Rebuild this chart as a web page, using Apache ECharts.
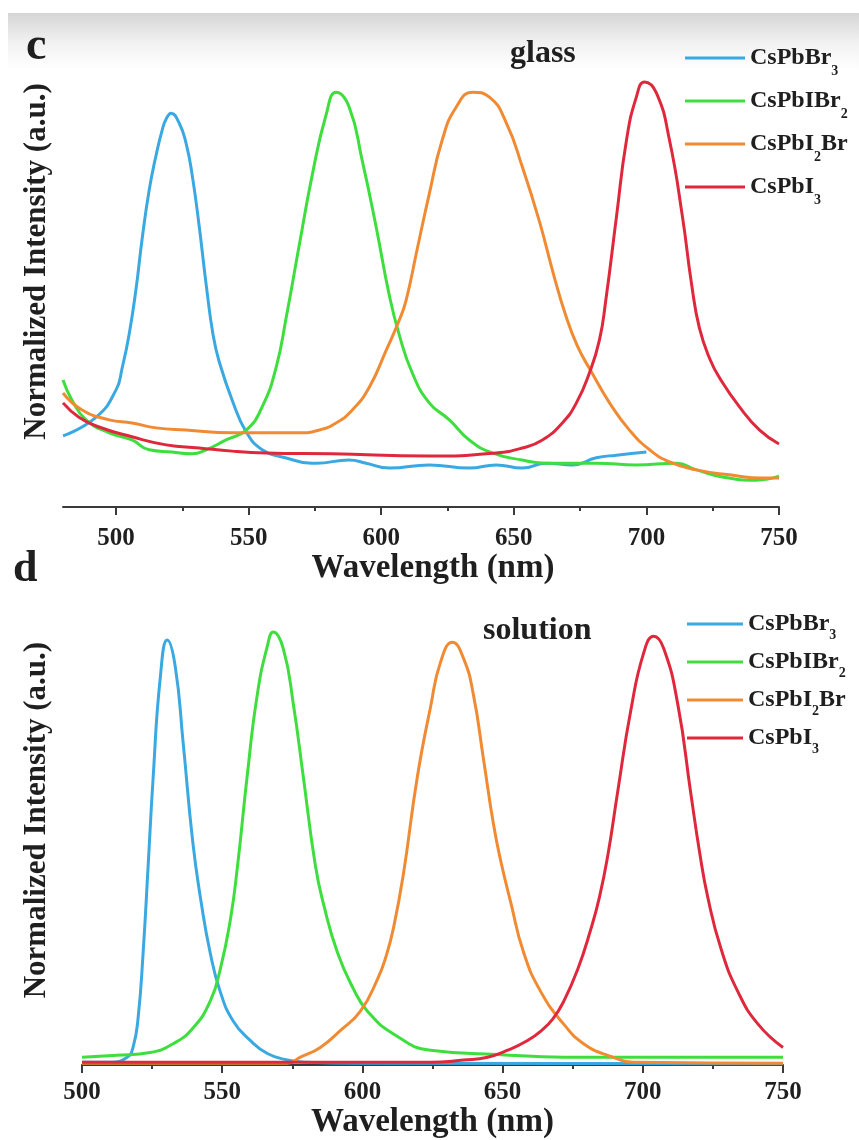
<!DOCTYPE html>
<html>
<head>
<meta charset="utf-8">
<script src="https://cdn.jsdelivr.net/npm/echarts@6/dist/echarts.min.js"></script>
<style>
  html, body { margin: 0; padding: 0; background: #ffffff; }
  #chart { width: 859px; height: 1140px; }
</style>
</head>
<body>
<div id="chart"></div>
<script>
// Photoluminescence spectra of CsPbX3 nanocrystals, in glass (c) and in solution (d)
const compounds = ['CsPbBr3', 'CsPbIBr2', 'CsPbI2Br', 'CsPbI3'];
const compoundLabels = ['CsPbBr{s|3}', 'CsPbIBr{s|2}', 'CsPbI{s|2}Br', 'CsPbI{s|3}'];
const lineColors = ['#3aa9e2', '#3fde3f', '#f08b33', '#e0283c'];

// Panel c: glass, [wavelength (nm), normalized intensity]
const glassBr3 = [
  [480, 0.159], [492.5, 0.201], [500, 0.262], [502.3, 0.311], [504.9, 0.385], [507.5, 0.486],
  [509.8, 0.598], [512.5, 0.709], [515.1, 0.787], [517.4, 0.843], [518.9, 0.868], [520.8, 0.881],
  [523.8, 0.859], [526.4, 0.814], [528.7, 0.743], [531.3, 0.631], [534, 0.497], [536.6, 0.385],
  [538.9, 0.325], [543.8, 0.239], [549.1, 0.168], [555.1, 0.128], [562.6, 0.112], [575.5, 0.098],
  [587.9, 0.105], [594.3, 0.098], [603, 0.087], [618.1, 0.094], [633.2, 0.087], [643.4, 0.094],
  [653.2, 0.087], [662.3, 0.098], [672.1, 0.094], [681.1, 0.110], [688.7, 0.116], [700, 0.123]
];
const glassIBr2 = [
  [480, 0.284], [483.4, 0.239], [488.7, 0.195], [497.4, 0.166], [506, 0.150], [512.5, 0.128],
  [521.1, 0.123], [528.7, 0.119], [534, 0.128], [541.5, 0.150], [549.1, 0.172], [555.1, 0.224],
  [560.4, 0.313], [564.2, 0.425], [569.1, 0.586], [574, 0.743], [579.2, 0.877], [583, 0.928],
  [587.9, 0.895], [592.8, 0.776], [598.1, 0.626], [603, 0.475], [606.8, 0.385], [611.7, 0.300],
  [618.1, 0.233], [625.7, 0.195], [633.2, 0.150], [641.9, 0.121], [653.2, 0.105], [662.3, 0.098],
  [681.1, 0.098], [696.2, 0.094], [711.3, 0.098], [718.9, 0.083], [728.7, 0.067], [741.5, 0.060],
  [750, 0.069]
];
const glassI2Br = [
  [480, 0.255], [487.2, 0.217], [497.4, 0.195], [506, 0.188], [515.1, 0.177], [526.4, 0.172],
  [543.8, 0.166], [556.6, 0.166], [569.1, 0.166], [576.6, 0.172], [583, 0.188], [589.1, 0.217],
  [595.5, 0.268], [601.9, 0.351], [606.8, 0.418], [609.4, 0.463], [613.5, 0.575], [618.1, 0.700],
  [623, 0.821], [628.3, 0.895], [634.5, 0.928], [640.8, 0.917], [647.2, 0.859], [653.2, 0.761],
  [659.6, 0.640], [665, 0.520], [669.5, 0.430], [674, 0.360], [679.3, 0.302], [686.1, 0.233],
  [693.6, 0.172], [701.2, 0.128], [708.7, 0.101], [718.9, 0.083], [731.3, 0.072], [743.8, 0.065],
  [750, 0.065]
];
const glassI3 = [
  [480, 0.233], [486, 0.201], [493.6, 0.179], [506, 0.157], [518.9, 0.139], [531.3, 0.132],
  [543.8, 0.125], [556.6, 0.121], [581.5, 0.119], [618.1, 0.114], [643.4, 0.121], [653.2, 0.132],
  [660.8, 0.150], [668.3, 0.188], [673.6, 0.233], [678.5, 0.300], [682.3, 0.374], [684.7, 0.463],
  [688.7, 0.649], [692.5, 0.821], [696.2, 0.917], [699.3, 0.951], [703.8, 0.926], [708.7, 0.821],
  [713.6, 0.649], [717, 0.500], [720, 0.400], [724, 0.330], [728, 0.285], [735.1, 0.224],
  [742.7, 0.172], [750, 0.141]
];

// Panel d: solution, [wavelength (nm), normalized intensity]
const solBr3 = [
  [500, 0.006], [510, 0.006], [516.1, 0.017], [518.2, 0.038], [520, 0.101], [521.8, 0.242],
  [523.6, 0.430], [525.4, 0.621], [527.9, 0.832], [530.4, 0.914], [533.2, 0.859], [536.1, 0.691],
  [539.5, 0.480], [542.5, 0.350], [545.7, 0.242], [549.3, 0.158], [553.9, 0.095], [560, 0.053],
  [566.1, 0.025], [573.2, 0.011], [580, 0.006], [600, 0.004], [750, 0.003]
];
const solIBr2 = [
  [500, 0.017], [512.5, 0.021], [524.3, 0.027], [532.5, 0.046], [539.6, 0.080], [545.7, 0.137],
  [549.3, 0.206], [552.9, 0.312], [555.5, 0.430], [558.9, 0.621], [562.5, 0.796], [566.1, 0.901],
  [568.2, 0.931], [571.8, 0.895], [575.4, 0.775], [578.9, 0.621], [583.2, 0.430], [586.1, 0.347],
  [591.1, 0.242], [596.8, 0.164], [601.8, 0.116], [611.1, 0.067], [624.3, 0.032], [648.2, 0.023],
  [671.8, 0.017], [750, 0.017]
];
const solI2Br = [
  [500, 0.004], [573.2, 0.004], [577.9, 0.017], [585, 0.038], [592.1, 0.074], [599.3, 0.116],
  [605.4, 0.185], [608.5, 0.235], [611.1, 0.295], [614.6, 0.410], [619.6, 0.620], [624.3, 0.770],
  [627.9, 0.867], [632.1, 0.909], [636.1, 0.874], [639.6, 0.796], [643.2, 0.657], [646.8, 0.516],
  [649.3, 0.440], [652.9, 0.350], [657.5, 0.242], [663.6, 0.158], [671.8, 0.088], [678.9, 0.046],
  [687.5, 0.021], [698.2, 0.006], [750, 0.004]
];
const solI3 = [
  [500, 0.006], [624.3, 0.006], [636.1, 0.011], [644.6, 0.017], [651.8, 0.032], [658.9, 0.053],
  [664, 0.075], [668, 0.100], [671.8, 0.137], [676.8, 0.206], [681.4, 0.291], [684.5, 0.360],
  [687.5, 0.450], [691.1, 0.590], [695.7, 0.762], [700.4, 0.888], [703.9, 0.922], [707.5, 0.895],
  [712.5, 0.775], [717.1, 0.585], [720.2, 0.460], [723.2, 0.360], [727.9, 0.250], [733.9, 0.158],
  [741.1, 0.088], [750, 0.038]
];

// Wavelength axis ticks of panel c (its range starts at 480 nm)
const glassMajorTicks = [500, 550, 600, 650, 700, 750];
const glassMinorTicks = [525, 575, 625, 675, 725];

const serif = "'Liberation Serif', 'Times New Roman', serif";
const ink = '#1f1f1f';

const glassData = [glassBr3, glassIBr2, glassI2Br, glassI3];
const solData = [solBr3, solIBr2, solI2Br, solI3];

function spectrum(name, data, color, gridIdx) {
  return {
    type: 'line',
    name: name,
    data: data,
    xAxisIndex: gridIdx === 0 ? 0 : 2,
    yAxisIndex: gridIdx,
    smooth: 0.5,
    showSymbol: false,
    color: color,
    lineStyle: { width: 3, color: color },
    emphasis: { disabled: true }
  };
}

const series = [];
compounds.forEach((c, i) => series.push(spectrum(c, glassData[i], lineColors[i], 0)));
compounds.forEach((c, i) => series.push(spectrum(c, solData[i], lineColors[i], 1)));

const labelFont = { fontFamily: serif, fontWeight: 'bold', fontSize: 25, color: ink };
const titleFont = { fontFamily: serif, fontWeight: 'bold', fontSize: 33, color: ink };
const axisLineStyle = { color: '#3a3a3a', width: 2 };

function legendBlock(left, top, itemWidth, lineHeight, gap) {
  return {
    orient: 'vertical',
    left: left,
    top: top,
    itemWidth: itemWidth,
    itemHeight: 3,
    itemGap: gap,
    icon: 'rect',
    selectedMode: false,
    data: compounds,
    formatter: name => compoundLabels[compounds.indexOf(name)],
    textStyle: {
      fontFamily: serif, fontWeight: 'bold', fontSize: 24, color: ink, lineHeight: lineHeight,
      rich: {
        s: { fontFamily: serif, fontWeight: 'bold', fontSize: 14, color: ink,
             lineHeight: 14, verticalAlign: 'bottom' }
      }
    }
  };
}

const option = {
  animation: false,
  backgroundColor: '#ffffff',
  grid: [
    { left: 63, top: 60, width: 716, height: 447 },
    { left: 82, top: 600, width: 701, height: 475 }
  ],
  xAxis: [
    {
      type: 'value', gridIndex: 0, min: 480, max: 750,
      axisLine: { lineStyle: axisLineStyle },
      axisTick: { customValues: glassMajorTicks, length: 8, lineStyle: axisLineStyle },
      axisLabel: Object.assign({ customValues: glassMajorTicks, margin: 19 }, labelFont),
      splitLine: { show: false },
      name: 'Wavelength (nm)', nameLocation: 'middle', nameGap: 38,
      nameTextStyle: Object.assign({ padding: [0, 0, 0, 24] }, titleFont)
    },
    {
      type: 'value', gridIndex: 0, min: 480, max: 750, position: 'bottom',
      axisLine: { show: false },
      axisTick: { customValues: glassMinorTicks, length: 4, lineStyle: axisLineStyle },
      axisLabel: { show: false },
      splitLine: { show: false }
    },
    {
      type: 'value', gridIndex: 1, min: 500, max: 750, interval: 50,
      axisLine: { lineStyle: axisLineStyle },
      axisTick: { length: 8, lineStyle: axisLineStyle },
      minorTick: { show: true, splitNumber: 2, length: 4, lineStyle: axisLineStyle },
      axisLabel: Object.assign({ margin: 15 }, labelFont),
      splitLine: { show: false },
      name: 'Wavelength (nm)', nameLocation: 'middle', nameGap: 30,
      nameTextStyle: titleFont
    }
  ],
  yAxis: [
    {
      type: 'value', gridIndex: 0, min: 0, max: 1,
      axisLine: { show: false }, axisTick: { show: false }, axisLabel: { show: false },
      splitLine: { show: false },
      name: 'Normalized Intensity (a.u.)', nameLocation: 'middle', nameGap: 11,
      nameTextStyle: { fontFamily: serif, fontWeight: 'bold', fontSize: 31, color: ink,
                       padding: [0, 0, 0, 44] }
    },
    {
      type: 'value', gridIndex: 1, min: 0, max: 1,
      axisLine: { show: false }, axisTick: { show: false }, axisLabel: { show: false },
      splitLine: { show: false },
      name: 'Normalized Intensity (a.u.)', nameLocation: 'middle', nameGap: 30,
      nameTextStyle: { fontFamily: serif, fontWeight: 'bold', fontSize: 31, color: ink,
                       padding: [0, 0, 0, 25] }
    }
  ],
  legend: [
    legendBlock(680, 33, 60, 40, 3),
    legendBlock(682, 601, 56, 36, 2)
  ],
  graphic: [
    {
      type: 'rect', z: -100, silent: true,
      shape: { x: 8, y: 13, width: 851, height: 56 },
      style: {
        fill: new echarts.graphic.LinearGradient(0, 0, 0, 1, [
          { offset: 0, color: '#d5d5d5' },
          { offset: 0.5, color: '#f0f0f0' },
          { offset: 1, color: '#ffffff' }
        ])
      }
    },
    { type: 'text', left: 26, top: 24, style: { text: 'c', font: "bold 46px 'Liberation Serif', serif", fill: ink } },
    { type: 'text', left: 13, top: 548, style: { text: 'd', font: "bold 44px 'Liberation Serif', serif", fill: ink } },
    { type: 'text', left: 510, top: 38, style: { text: 'glass', font: "bold 32px 'Liberation Serif', serif", fill: ink } },
    { type: 'text', left: 483, top: 615, style: { text: 'solution', font: "bold 32px 'Liberation Serif', serif", fill: ink } }
  ],
  series: series
};

const chart = echarts.init(document.getElementById('chart'), null, { renderer: 'canvas' });
chart.setOption(option);
</script>
</body>
</html>
